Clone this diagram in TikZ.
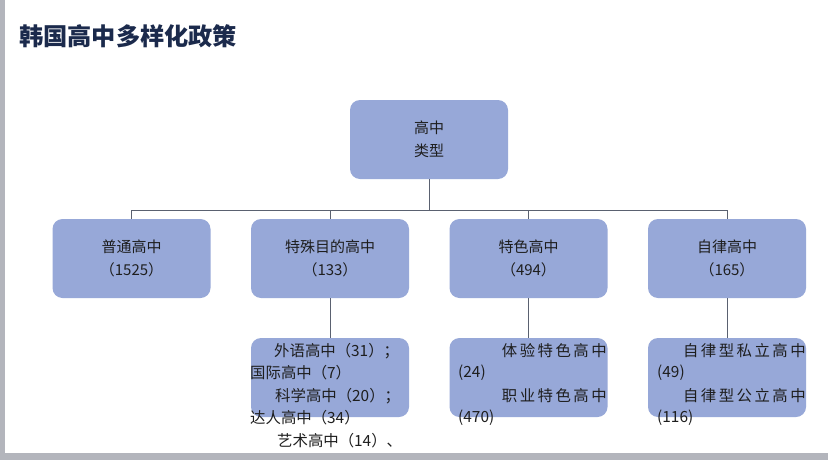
\documentclass[tikz,border=0pt]{standalone}
\usepackage{fontspec}
\setmainfont{Noto Sans CJK SC}
\definecolor{boxc}{HTML}{97A8D8}
\definecolor{barc}{HTML}{B3B5BC}
\definecolor{titlec}{HTML}{1B2A4C}
\definecolor{linec}{HTML}{5A6170}
\definecolor{txtc}{HTML}{1E1E1E}
\tikzset{
  box/.style={fill=boxc, rounded corners=10pt, minimum width=158pt, minimum height=79pt,
    inner sep=0pt, align=center, text=txtc, font=\fontsize{15}{23}\selectfont},
  conn/.style={draw=linec, line width=0.9pt},
  sub/.style={inner sep=0pt, text=txtc, font=\fontsize{15.4}{18}\selectfont},
}
\newcommand\lsp[1]{\kern2.5pt}
\begin{document}
\begin{tikzpicture}[x=1pt,y=-1pt]
\useasboundingbox (0,0) rectangle (828,469);
\fill[white] (0,0) rectangle (828,469);
\fill[barc] (0,0) rectangle (5,454);
\fill[barc] (0,453) rectangle (828,460);
\node[anchor=west, inner sep=0pt, text=titlec, font=\bfseries\fontsize{24.2}{27}\selectfont] (title) at (19,36.5) {韩国高中多样化政策};

\node[box] (top) at (429,139.5) {高中\\类型};
\node[box] (l2a) at (131.5,258.5) {普通高中\\（1525）};
\node[box] (l2b) at (330,258.5) {特殊目的高中\\（133）};
\node[box] (l2c) at (528.5,258.5) {特色高中\\（494）};
\node[box] (l2d) at (727,258.5) {自律高中\\（165）};
\node[box] (l3b) at (330,377.5) {};
\node[box] (l3c) at (528.5,377.5) {};
\node[box] (l3d) at (727,377.5) {};

\coordinate (bus) at (0,210);
\draw[conn] (top.south) -- (top.south |- bus);
\draw[conn] (l2a.north) -- (l2a.north |- bus) -- (l2d.north |- bus) -- (l2d.north);
\draw[conn] (l2b.north) -- (l2b.north |- bus);
\draw[conn] (l2c.north) -- (l2c.north |- bus);
\draw[conn] (l2b.south) -- (l3b.north);
\draw[conn] (l2c.south) -- (l3c.north);
\draw[conn] (l2d.south) -- (l3d.north);

% special purpose list
\node[sub, anchor=west] (b1) at (274,351) {外语高中（31）；};
\node[sub, anchor=west] (b2) at (250,373) {国际高中（7）};
\node[sub, anchor=west] (b3) at (275,396) {科学高中（20）；};
\node[sub, anchor=west] (b4) at (250,418) {达人高中（34）};
\node[sub, anchor=west] (b5) at (277,441) {艺术高中（14）、};
% characteristic
\node[sub, anchor=east] (c1) at (607,351) {体\lsp{}验\lsp{}特\lsp{}色\lsp{}高\lsp{}中};
\node[sub, anchor=west] (c2) at (458,373) {(24)};
\node[sub, anchor=east] (c3) at (607,396) {职\lsp{}业\lsp{}特\lsp{}色\lsp{}高\lsp{}中};
\node[sub, anchor=west] (c4) at (458,418) {(470)};
% autonomous
\node[sub, anchor=east] (d1) at (806,351) {自\lsp{}律\lsp{}型\lsp{}私\lsp{}立\lsp{}高\lsp{}中};
\node[sub, anchor=west] (d2) at (657,373) {(49)};
\node[sub, anchor=east] (d3) at (806,396) {自\lsp{}律\lsp{}型\lsp{}公\lsp{}立\lsp{}高\lsp{}中};
\node[sub, anchor=west] (d4) at (657,418) {(116)};
\end{tikzpicture}
\end{document}
